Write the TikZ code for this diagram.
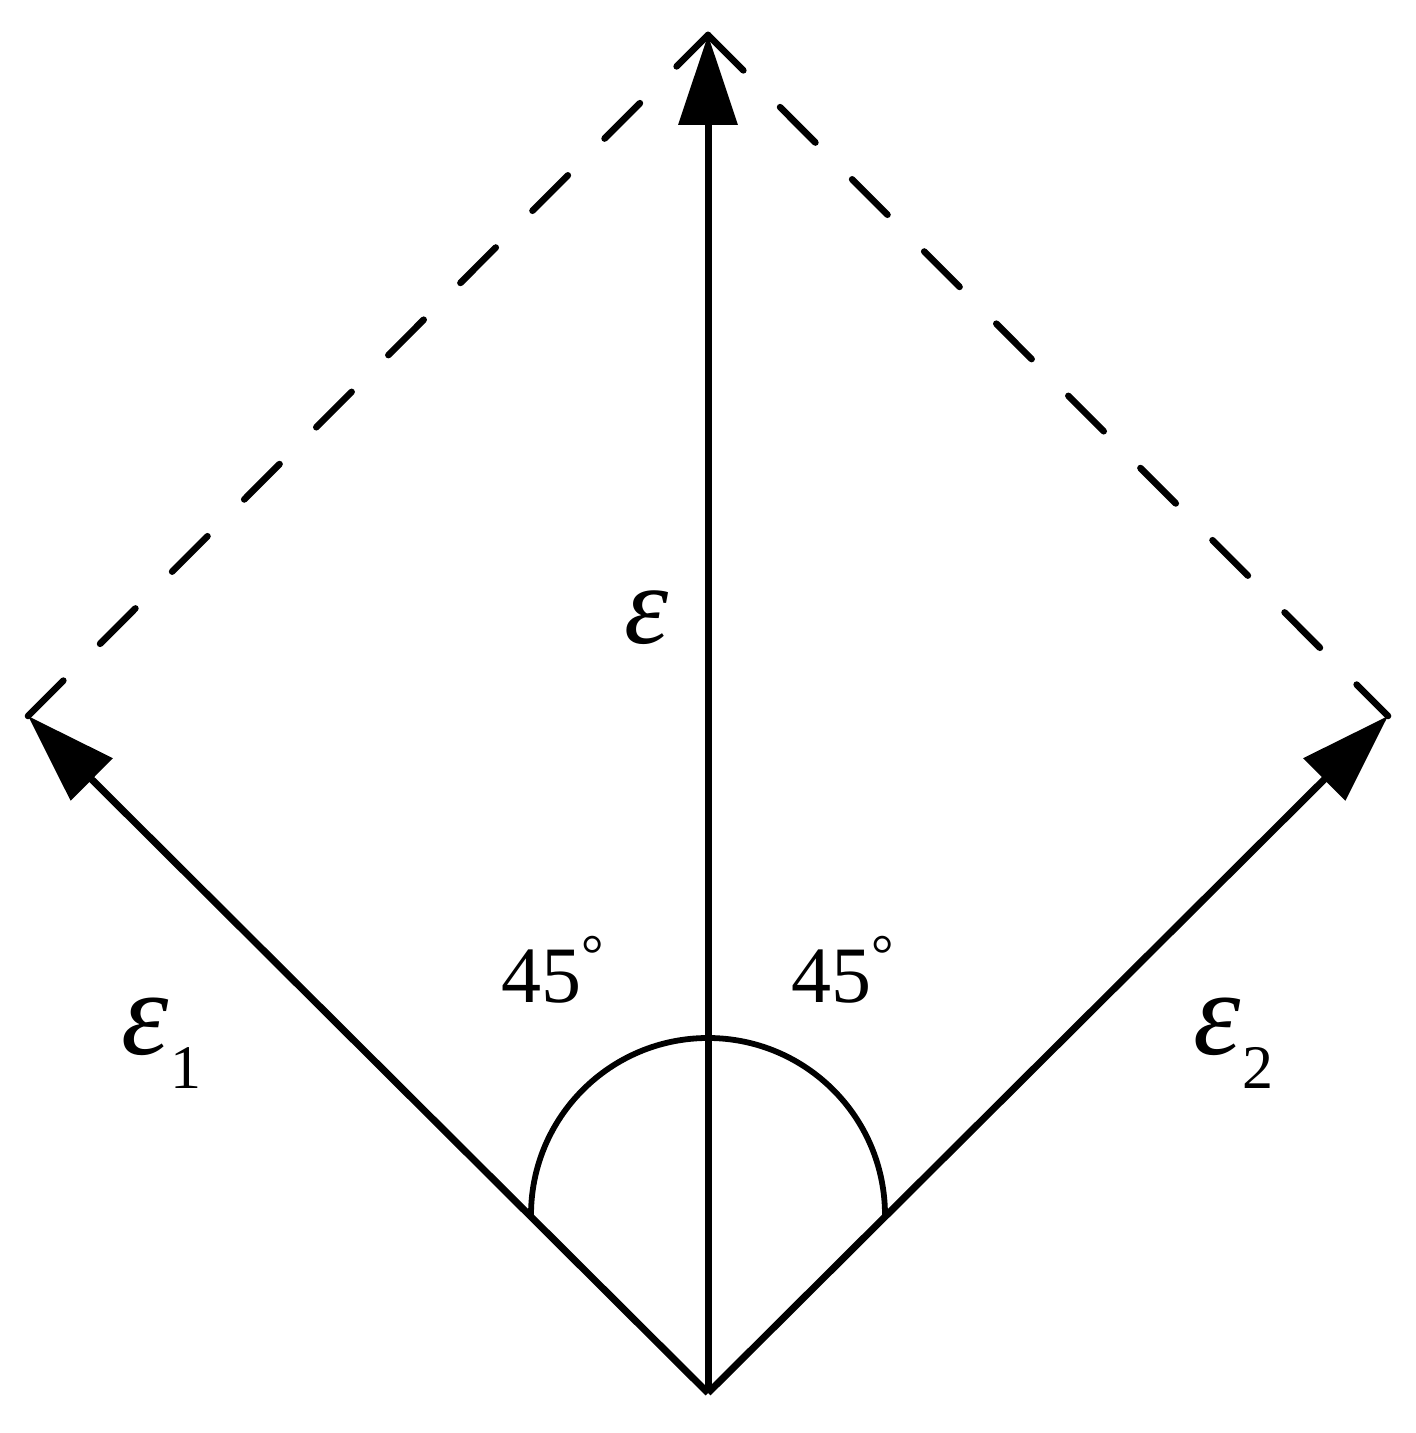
\documentclass[tikz,border=0pt]{standalone}
\usepackage{fontspec}
\setmainfont{Liberation Serif}
\usetikzlibrary{arrows.meta}
\begin{document}
\begin{tikzpicture}[x=0.5pt,y=0.5pt,
  vec/.style={line width=3.5pt,-{Triangle[length=45pt,width=29pt]}},
  guide/.style={line width=3.3pt,line cap=round,dash pattern=on 25pt off 26pt},
  anglearc/.style={line width=2.9pt},
  lbl/.style={inner sep=0pt,anchor=base west,font=\fontsize{40}{40}\selectfont},
  sym/.style={inner sep=0pt,anchor=base west,font=\fontsize{60}{60}\selectfont}]
\useasboundingbox (0,0) rectangle (1415,1433);
\coordinate (O) at (708,40);
\coordinate (T) at (708,1398);
\coordinate (L) at (28,717);
\coordinate (R) at (1388,717);
\coordinate (A) at (531,218);
% dashed guides
\draw[guide] (L) -- (T);
\draw[guide] (T) -- (R);
% vectors
\draw[vec] (O) -- (T);
\draw[vec] (O) -- (L);
\draw[vec] (O) -- (R);
% angle arc
\draw[anglearc] (A) arc[start angle=180,end angle=0,radius=88.5pt];
% labels
\node[lbl] (a1) at (501,430) {45\raisebox{14.5pt}{\fontsize{28}{28}\selectfont °}};
\node[lbl] (a2) at (791,430) {45\raisebox{14.5pt}{\fontsize{28}{28}\selectfont °}};
\node[sym,font=\fontsize{56}{56}\selectfont] (e) at (624,789) {\textit{ε}};
\node[sym] (e1) at (121,378) {\textit{ε}\kern1pt\raisebox{-17pt}{\fontsize{31}{31}\selectfont 1}};
\node[sym] (e2) at (1193,378) {\textit{ε}\kern1pt\raisebox{-17pt}{\fontsize{31}{31}\selectfont 2}};
\end{tikzpicture}
\end{document}
